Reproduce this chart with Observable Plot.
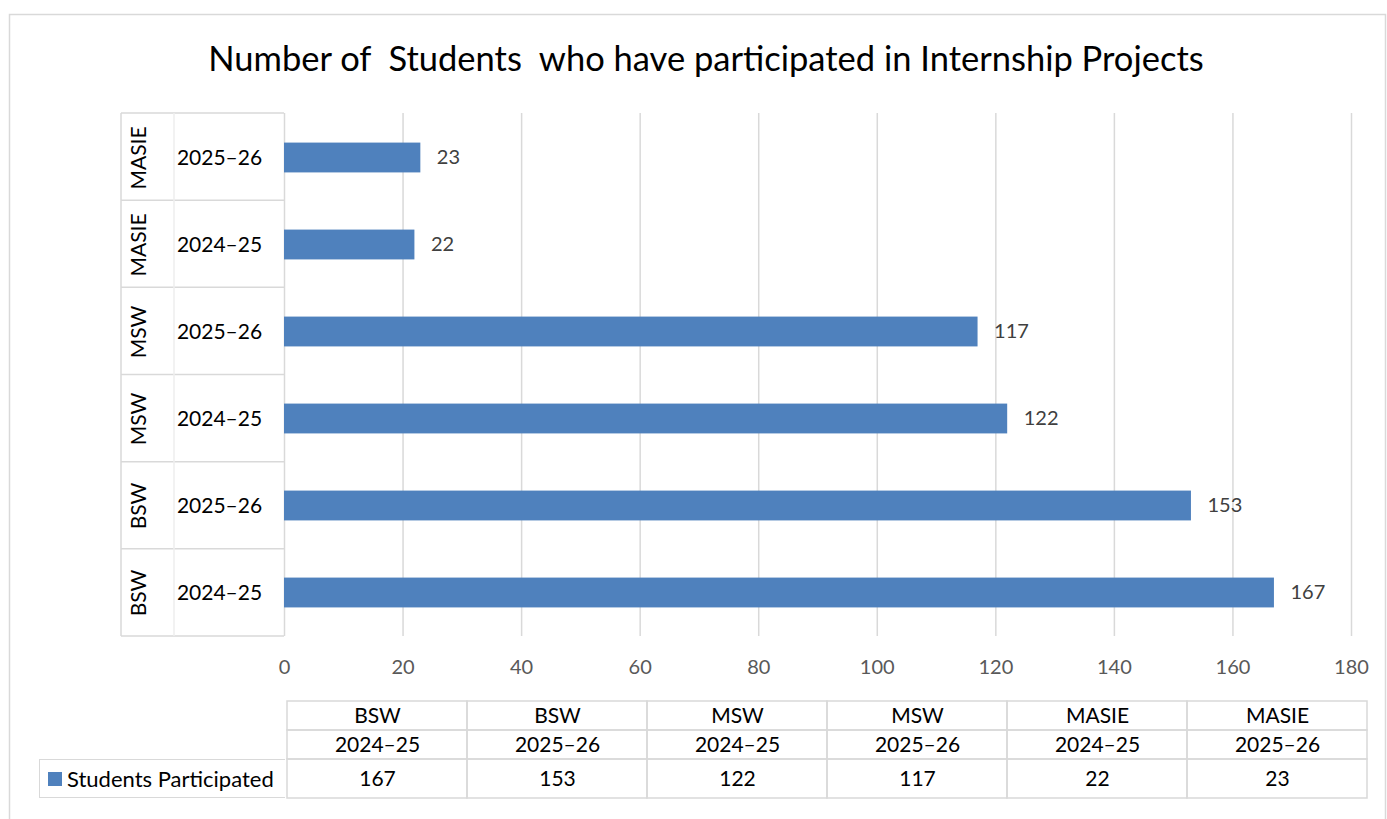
<!DOCTYPE html>
<html>
<head>
<meta charset="utf-8">
<script src="https://cdn.jsdelivr.net/npm/d3@7"></script>
<script src="https://cdn.jsdelivr.net/npm/@observablehq/plot@0.6"></script>
<style>
  body { margin: 0; background: #fff; }
  #wrap { position: relative; width: 1387px; height: 819px; overflow: hidden; font-family: Lato, "Open Sans", sans-serif; background: #fff; }
  #wrap > * { position: absolute; }
  #legendCell { left: 39px; top: 759px; width: 246px; height: 39px; box-sizing: border-box; border: 1.5px solid #d9d9d9; border-right: none;
    display: flex; align-items: center; font-size: 22px; color: #000; white-space: nowrap; }
  #legendCell .sw { display: inline-block; width: 14px; height: 14px; background: #4F81BD; margin-left: 8px; margin-right: 5px; }
</style>
</head>
<body>
<div id="wrap"></div>
<script>
// ---------------- data ----------------
const chartTitle = "Number of  Students  who have participated in Internship Projects";
const seriesName = "Students Participated";
const programs = ["BSW", "BSW", "MSW", "MSW", "MASIE", "MASIE"];
const years = ["2024–25", "2025–26", "2024–25", "2025–26", "2024–25", "2025–26"];
const values = [167, 153, 122, 117, 22, 23];
const xTicks = [0, 20, 40, 60, 80, 100, 120, 140, 160, 180];

// ---------------- derived table ----------------
const rows = programs.map((p, i) => ({ key: p + " " + years[i], program: p, year: years[i], value: values[i] }));
const keys = rows.map(d => d.key);

const W = 1387, H = 819;
const BLUE = "#4F81BD", GRID = "#d9d9d9";
const wrap = document.getElementById("wrap");

// ---------------- frame + title ----------------
const bg = d3.create("svg").attr("width", W).attr("height", H).style("left", "0px").style("top", "0px");
bg.append("rect").attr("x", 9.5).attr("y", 14.5).attr("width", 1376).attr("height", 900)
  .attr("fill", "#fff").attr("stroke", GRID).attr("stroke-width", 1.5);
bg.append("text").attr("x", 706).attr("y", 71).attr("text-anchor", "middle")
  .style("white-space", "pre").attr("font-family", "Lato, sans-serif").attr("font-size", 34.5).attr("fill", "#000")
  .text(chartTitle);
wrap.appendChild(bg.node());

// ---------------- main chart ----------------
const mL = 284, mR = 36, mT = 113, mB = 183;
const band = (H - mT - mB) / keys.length;
const barH = 30;
const inset = (band - barH) / 2;

function leftTable(index, scales, vals, dim) {
  const g = d3.create("svg:g").attr("fill", "none");
  const xR = dim.marginLeft, xL = dim.marginLeft - 163, xM = dim.marginLeft - 110;
  const top = dim.marginTop, bottom = dim.height - dim.marginBottom;
  const step = (bottom - top) / keys.length;
  for (let i = 0; i <= keys.length; i++) {
    g.append("line").attr("x1", xL).attr("x2", xR).attr("y1", top + i * step).attr("y2", top + i * step)
      .attr("stroke", GRID).attr("stroke-width", 1.5);
  }
  g.append("line").attr("x1", xL).attr("x2", xL).attr("y1", top).attr("y2", bottom).attr("stroke", GRID).attr("stroke-width", 1.5);
  g.append("line").attr("x1", xM).attr("x2", xM).attr("y1", top).attr("y2", bottom).attr("stroke", "#eeeeee").attr("stroke-width", 1.5);
  return g.node();
}

const main = Plot.plot({
  width: W, height: H,
  marginLeft: mL, marginRight: mR, marginTop: mT, marginBottom: mB,
  style: { fontFamily: "Lato, sans-serif", fontSize: "20px", background: "transparent", overflow: "visible" },
  x: { domain: [0, 180], label: null },
  y: { domain: keys.slice().reverse(), padding: 0, label: null, axis: null },
  marks: [
    Plot.gridX(xTicks, { stroke: GRID, strokeOpacity: 1, strokeWidth: 1.5 }),
    leftTable,
    Plot.barX(rows, { x: "value", y: "key", fill: BLUE, insetTop: inset, insetBottom: inset }),
    Plot.text(rows, { x: "value", y: "key", text: d => String(d.value), textAnchor: "start", dx: 16, fill: "#404040", fontSize: 20 }),
    Plot.text(rows, { y: "key", text: "year", frameAnchor: "left", dx: -65, textAnchor: "middle", fill: "#000", fontSize: 21 }),
    Plot.text(rows, { y: "key", text: "program", frameAnchor: "left", dx: -145, rotate: -90, textAnchor: "middle", lineAnchor: "middle", fill: "#000", fontSize: 21 }),
    Plot.axisX({ ticks: xTicks, tickSize: 0, tickPadding: 23, color: "#595959", fontSize: 20, label: null })
  ]
});
main.style.left = "0px"; main.style.top = "0px";
wrap.appendChild(main);

// ---------------- data table ----------------
const headerRows = ["program", "year"];
const headerCells = rows.flatMap(d => [
  { key: d.key, row: "program", text: d.program },
  { key: d.key, row: "year", text: d.year }
]);
const tL = 284, tR = W - 1369;

const header = Plot.plot({
  width: W, height: 59,
  marginLeft: tL, marginRight: tR, marginTop: 0, marginBottom: 0,
  style: { fontFamily: "Lato, sans-serif", fontSize: "21px", background: "transparent", overflow: "visible" },
  x: { domain: keys, padding: 0, axis: null },
  y: { domain: headerRows, padding: 0, axis: null },
  marks: [
    Plot.cell(headerCells, { x: "key", y: "row", fill: "none", stroke: GRID, strokeWidth: 1.5, inset: 0 }),
    Plot.text(headerCells, { x: "key", y: "row", text: "text", fill: "#000", fontSize: 21 })
  ]
});
header.style.left = "0px"; header.style.top = "700px";
wrap.appendChild(header);

const valueCells = rows.map(d => ({ key: d.key, row: seriesName, text: String(d.value) }));
const valuesPlot = Plot.plot({
  width: W, height: 39,
  marginLeft: tL, marginRight: tR, marginTop: 0, marginBottom: 0,
  style: { fontFamily: "Lato, sans-serif", fontSize: "21px", background: "transparent", overflow: "visible" },
  x: { domain: keys, padding: 0, axis: null },
  y: { domain: [seriesName], padding: 0, axis: null },
  marks: [
    Plot.cell(valueCells, { x: "key", y: "row", fill: "none", stroke: GRID, strokeWidth: 1.5, inset: 0 }),
    Plot.text(valueCells, { x: "key", y: "row", text: "text", fill: "#000", fontSize: 21 })
  ]
});
valuesPlot.style.left = "0px"; valuesPlot.style.top = "759px";
wrap.appendChild(valuesPlot);

// legend cell
const lg = document.createElement("div");
lg.id = "legendCell";
const sw = document.createElement("span"); sw.className = "sw";
lg.appendChild(sw);
lg.appendChild(document.createTextNode(seriesName));
wrap.appendChild(lg);
</script>
</body>
</html>
